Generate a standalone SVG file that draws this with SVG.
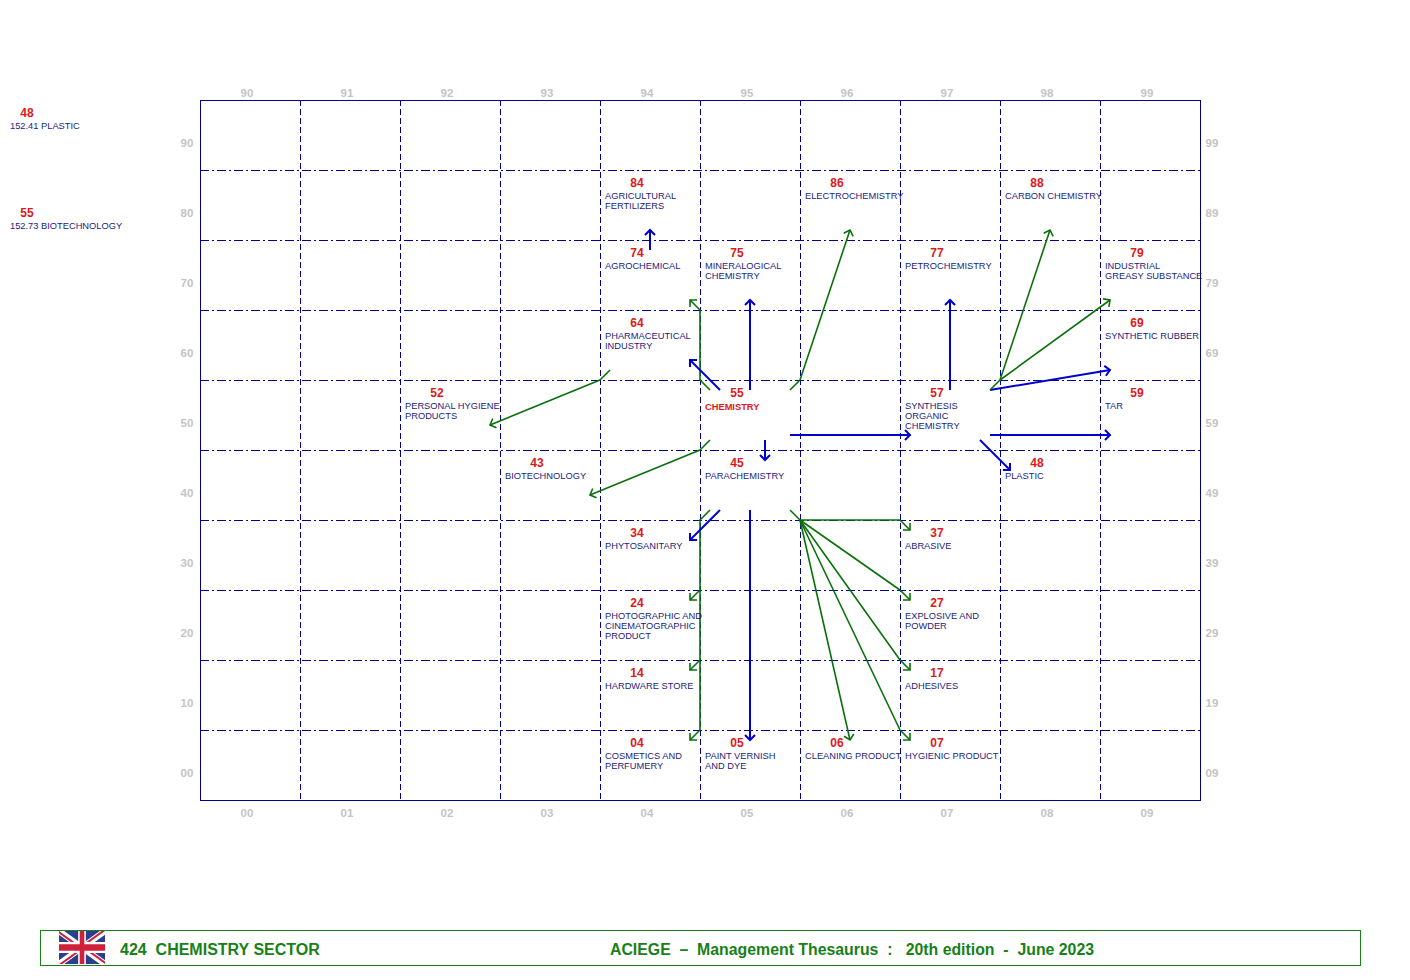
<svg xmlns="http://www.w3.org/2000/svg" width="1410" height="980" viewBox="0 0 1410 980">
<style>
.ax{font-family:"Liberation Sans",Arial,sans-serif;font-size:11.5px;font-weight:bold;fill:#c4c4c4;text-anchor:middle}
.num{font-family:"Liberation Sans",Arial,sans-serif;font-size:12px;font-weight:bold;fill:#e01818;text-anchor:middle}
.lab{font-family:"Liberation Sans",Arial,sans-serif;font-size:9.3px;fill:#1c1c80}
.labr{font-family:"Liberation Sans",Arial,sans-serif;font-size:9.3px;font-weight:bold;fill:#e01818}
.vg{stroke:#00008b;stroke-width:1;stroke-dasharray:6 3;fill:none;shape-rendering:crispEdges}
.hg{stroke:#00008b;stroke-width:1;stroke-dasharray:9 3 2 3;fill:none;shape-rendering:crispEdges}
.b{stroke:#0000cc;stroke-width:2;fill:none;marker-end:url(#ab)}
.bn{stroke:#0000cc;stroke-width:2;fill:none}
.g{stroke:#0a700a;stroke-width:1.6;fill:none;marker-end:url(#ag)}
.gn{stroke:#0a700a;stroke-width:1.6;fill:none}
.ft{font-family:"Liberation Sans",Arial,sans-serif;font-size:16px;font-weight:bold;fill:#178017}
</style>
<defs>
<marker id="ab" viewBox="-10 -10 20 20" markerWidth="20" markerHeight="20" refX="0" refY="0" orient="auto" markerUnits="userSpaceOnUse"><path d="M-5,-5 L0,0 L-5,5" fill="none" stroke="#0000cc" stroke-width="2"/></marker>
<marker id="ag" viewBox="-10 -10 20 20" markerWidth="20" markerHeight="20" refX="0" refY="0" orient="auto" markerUnits="userSpaceOnUse"><path d="M-5,-5 L0,0 L-5,5" fill="none" stroke="#0a700a" stroke-width="1.6"/></marker>
<clipPath id="fs"><path d="M0,0 v30 h60 v-30 z"/></clipPath>
<clipPath id="ft"><path d="M30,15 h30 v15 z v15 h-30 z h-30 v-15 z v-15 h30 z"/></clipPath>
</defs>
<rect width="1410" height="980" fill="#ffffff"/>

<g id="grid">
<path class="vg" d="M300.5,100V800M400.5,100V800M500.5,100V800M600.5,100V800M700.5,100V800M800.5,100V800M900.5,100V800M1000.5,100V800M1100.5,100V800"/>
<path class="hg" d="M200,170.5H1200M200,240.5H1200M200,310.5H1200M200,380.5H1200M200,450.5H1200M200,520.5H1200M200,590.5H1200M200,660.5H1200M200,730.5H1200"/>
<rect x="200.5" y="100.5" width="1000" height="700" fill="none" stroke="#00008b" stroke-width="1" shape-rendering="crispEdges"/>
</g>

<g id="axes">
<text class="ax" x="247" y="97">90</text><text class="ax" x="347" y="97">91</text><text class="ax" x="447" y="97">92</text><text class="ax" x="547" y="97">93</text><text class="ax" x="647" y="97">94</text><text class="ax" x="747" y="97">95</text><text class="ax" x="847" y="97">96</text><text class="ax" x="947" y="97">97</text><text class="ax" x="1047" y="97">98</text><text class="ax" x="1147" y="97">99</text>
<text class="ax" x="247" y="817">00</text><text class="ax" x="347" y="817">01</text><text class="ax" x="447" y="817">02</text><text class="ax" x="547" y="817">03</text><text class="ax" x="647" y="817">04</text><text class="ax" x="747" y="817">05</text><text class="ax" x="847" y="817">06</text><text class="ax" x="947" y="817">07</text><text class="ax" x="1047" y="817">08</text><text class="ax" x="1147" y="817">09</text>
<text class="ax" x="187" y="147">90</text><text class="ax" x="187" y="217">80</text><text class="ax" x="187" y="287">70</text><text class="ax" x="187" y="357">60</text><text class="ax" x="187" y="427">50</text><text class="ax" x="187" y="497">40</text><text class="ax" x="187" y="567">30</text><text class="ax" x="187" y="637">20</text><text class="ax" x="187" y="707">10</text><text class="ax" x="187" y="777">00</text>
<text class="ax" x="1212" y="147">99</text><text class="ax" x="1212" y="217">89</text><text class="ax" x="1212" y="287">79</text><text class="ax" x="1212" y="357">69</text><text class="ax" x="1212" y="427">59</text><text class="ax" x="1212" y="497">49</text><text class="ax" x="1212" y="567">39</text><text class="ax" x="1212" y="637">29</text><text class="ax" x="1212" y="707">19</text><text class="ax" x="1212" y="777">09</text>
</g>

<g id="side-refs">
<text class="num" x="27" y="117">48</text>
<text class="lab" x="10" y="129">152.41 PLASTIC</text>
<text class="num" x="27" y="217">55</text>
<text class="lab" x="10" y="229">152.73 BIOTECHNOLOGY</text>
</g>

<g id="connectors">
<path class="b" d="M650,250V230"/>
<path class="gn" d="M710,390L700,380V310"/><path class="g" d="M700,310L690,300"/>
<path class="b" d="M720,390L690,360"/>
<path class="b" d="M750,390V300"/>
<path class="gn" d="M790,390L800,380"/><path class="g" d="M800,380L850,230"/>
<path class="gn" d="M610,370L600,380"/><path class="g" d="M600,380L490,425"/>
<path class="b" d="M790,435H910"/>
<path class="b" d="M765,440V460"/>
<path class="gn" d="M710,440L700,450"/><path class="g" d="M700,450L590,495"/>
<path class="gn" d="M710,510L700,520V730"/>
<path class="g" d="M700,590L690,600"/>
<path class="g" d="M700,660L690,670"/>
<path class="g" d="M700,730L690,740"/>
<path class="b" d="M720,510L690,540"/>
<path class="b" d="M750,510V740"/>
<path class="gn" d="M790,510L800,520"/>
<path class="gn" d="M800,520H900"/><path class="g" d="M900,520L910,530"/>
<path class="gn" d="M800,520L900,590"/><path class="g" d="M900,590L910,600"/>
<path class="gn" d="M800,520L900,660"/><path class="g" d="M900,660L910,670"/>
<path class="g" d="M800,520L850,740"/>
<path class="gn" d="M800,520L900,730"/><path class="g" d="M900,730L910,740"/>
<path class="b" d="M950,390V300"/>
<path class="b" d="M990,390L1110,370"/>
<path class="gn" d="M990,390L1000,380"/><path class="g" d="M1000,380L1050,230"/>
<path class="g" d="M1000,380L1110,300"/>
<path class="b" d="M990,435H1110"/>
<path class="b" d="M980,440L1010,470"/>
</g>

<g id="n84"><text class="num" x="637" y="187">84</text><text class="lab" x="605" y="199">AGRICULTURAL</text><text class="lab" x="605" y="209">FERTILIZERS</text></g>
<g id="n86"><text class="num" x="837" y="187">86</text><text class="lab" x="805" y="199">ELECTROCHEMISTRY</text></g>
<g id="n88"><text class="num" x="1037" y="187">88</text><text class="lab" x="1005" y="199">CARBON CHEMISTRY</text></g>
<g id="n74"><text class="num" x="637" y="257">74</text><text class="lab" x="605" y="269">AGROCHEMICAL</text></g>
<g id="n75"><text class="num" x="737" y="257">75</text><text class="lab" x="705" y="269">MINERALOGICAL</text><text class="lab" x="705" y="279">CHEMISTRY</text></g>
<g id="n77"><text class="num" x="937" y="257">77</text><text class="lab" x="905" y="269">PETROCHEMISTRY</text></g>
<g id="n79"><text class="num" x="1137" y="257">79</text><text class="lab" x="1105" y="269">INDUSTRIAL</text><text class="lab" x="1105" y="279">GREASY SUBSTANCE</text></g>
<g id="n64"><text class="num" x="637" y="327">64</text><text class="lab" x="605" y="339">PHARMACEUTICAL</text><text class="lab" x="605" y="349">INDUSTRY</text></g>
<g id="n69"><text class="num" x="1137" y="327">69</text><text class="lab" x="1105" y="339">SYNTHETIC RUBBER</text></g>
<g id="n52"><text class="num" x="437" y="397">52</text><text class="lab" x="405" y="409">PERSONAL HYGIENE</text><text class="lab" x="405" y="419">PRODUCTS</text></g>
<g id="n55"><text class="num" x="737" y="397">55</text><text class="labr" x="705" y="410">CHEMISTRY</text></g>
<g id="n57"><text class="num" x="937" y="397">57</text><text class="lab" x="905" y="409">SYNTHESIS</text><text class="lab" x="905" y="419">ORGANIC</text><text class="lab" x="905" y="429">CHEMISTRY</text></g>
<g id="n59"><text class="num" x="1137" y="397">59</text><text class="lab" x="1105" y="409">TAR</text></g>
<g id="n43"><text class="num" x="537" y="467">43</text><text class="lab" x="505" y="479">BIOTECHNOLOGY</text></g>
<g id="n45"><text class="num" x="737" y="467">45</text><text class="lab" x="705" y="479">PARACHEMISTRY</text></g>
<g id="n48"><text class="num" x="1037" y="467">48</text><text class="lab" x="1005" y="479">PLASTIC</text></g>
<g id="n34"><text class="num" x="637" y="537">34</text><text class="lab" x="605" y="549">PHYTOSANITARY</text></g>
<g id="n37"><text class="num" x="937" y="537">37</text><text class="lab" x="905" y="549">ABRASIVE</text></g>
<g id="n24"><text class="num" x="637" y="607">24</text><text class="lab" x="605" y="619">PHOTOGRAPHIC AND</text><text class="lab" x="605" y="629">CINEMATOGRAPHIC</text><text class="lab" x="605" y="639">PRODUCT</text></g>
<g id="n27"><text class="num" x="937" y="607">27</text><text class="lab" x="905" y="619">EXPLOSIVE AND</text><text class="lab" x="905" y="629">POWDER</text></g>
<g id="n14"><text class="num" x="637" y="677">14</text><text class="lab" x="605" y="689">HARDWARE STORE</text></g>
<g id="n17"><text class="num" x="937" y="677">17</text><text class="lab" x="905" y="689">ADHESIVES</text></g>
<g id="n04"><text class="num" x="637" y="747">04</text><text class="lab" x="605" y="759">COSMETICS AND</text><text class="lab" x="605" y="769">PERFUMERY</text></g>
<g id="n05"><text class="num" x="737" y="747">05</text><text class="lab" x="705" y="759">PAINT VERNISH</text><text class="lab" x="705" y="769">AND DYE</text></g>
<g id="n06"><text class="num" x="837" y="747">06</text><text class="lab" x="805" y="759">CLEANING PRODUCT</text></g>
<g id="n07"><text class="num" x="937" y="747">07</text><text class="lab" x="905" y="759">HYGIENIC PRODUCT</text></g>

<g id="footer">
<rect x="40.5" y="930.5" width="1320" height="35" fill="none" stroke="#178017" stroke-width="1" shape-rendering="crispEdges"/>
<g transform="translate(59,931) scale(0.7667,1.1)">
<g clip-path="url(#fs)">
<path d="M0,0 v30 h60 v-30 z" fill="#2a3f8f"/>
<path d="M0,0 L60,30 M60,0 L0,30" stroke="#ffffff" stroke-width="6"/>
<path d="M0,0 L60,30 M60,0 L0,30" clip-path="url(#ft)" stroke="#d0203a" stroke-width="4"/>
<path d="M30,0 v30 M0,15 h60" stroke="#ffffff" stroke-width="10"/>
<path d="M30,0 v30 M0,15 h60" stroke="#d0203a" stroke-width="6"/>
</g>
</g>
<text class="ft" x="120" y="955" xml:space="preserve">424  CHEMISTRY SECTOR</text>
<text class="ft" x="610" y="955" xml:space="preserve" textLength="484" lengthAdjust="spacingAndGlyphs">ACIEGE  –  Management Thesaurus  :   20th edition  -  June 2023</text>
</g>
</svg>
